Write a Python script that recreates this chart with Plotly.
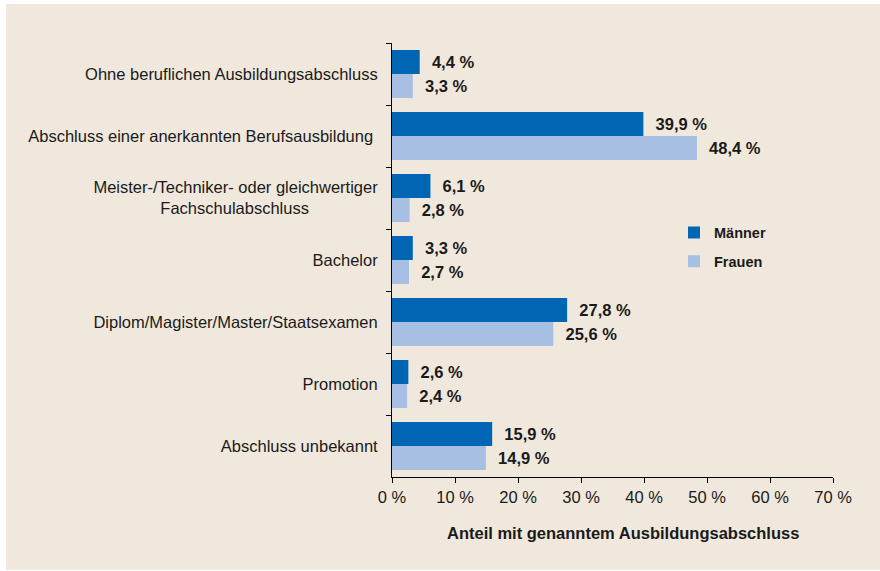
import plotly.graph_objects as go

categories = [
    "Ohne beruflichen Ausbildungsabschluss",
    "Abschluss einer anerkannten Berufsausbildung\u00a0",
    "Meister-/Techniker- oder gleichwertiger<br>Fachschulabschluss" + "\u00a0" * 15,
    "Bachelor",
    "Diplom/Magister/Master/Staatsexamen",
    "Promotion",
    "Abschluss unbekannt",
]
maenner = [4.4, 39.9, 6.1, 3.3, 27.8, 2.6, 15.9]
frauen = [3.3, 48.4, 2.8, 2.7, 25.6, 2.4, 14.9]
series_names = ["Männer", "Frauen"]
x_ticks = [0, 10, 20, 30, 40, 50, 60, 70]
x_ticktext = ["0 %", "10 %", "20 %", "30 %", "40 %", "50 %", "60 %", "70 %"]
x_title = "Anteil mit genanntem Ausbildungsabschluss"

FONT = "Liberation Sans, Arial, sans-serif"
BG = "#F0E8DC"
TXT = "#1a1a1a"
FS = 16.5

L, R, T, B = 392, 833, 43, 477
W, H = 880, 571
PW, PH = R - L, B - T

fig = go.Figure()
for name, vals, col in [(series_names[0], maenner, "#0066B3"), (series_names[1], frauen, "#A6BFE3")]:
    fig.add_trace(go.Bar(
        y=categories, x=vals, orientation="h", name=name,
        marker=dict(color=col, line=dict(width=0)),
        texttemplate="\u00a0\u00a0%{x:.1f} %", textposition="outside",
        textfont=dict(family=FONT, size=FS, color=TXT, weight="bold"),
        cliponaxis=False, constraintext="none",
        legendgroup=name,
    ))

fig.add_shape(type="rect", xref="paper", yref="paper",
              x0=(6 - L) / PW, x1=(W - L) / PW + 0.05,
              y0=(B - 570) / PH, y1=(B - 4) / PH,
              fillcolor=BG, line=dict(width=0), layer="below")

fig.add_annotation(text="<b>" + x_title + "</b>", xref="paper", yref="paper",
                   x=(623 - L) / PW, y=(B - 533) / PH, xanchor="center", yanchor="middle",
                   showarrow=False, font=dict(family=FONT, size=FS, color=TXT))

fig.update_layout(
    width=W, height=H,
    margin=dict(l=L, r=W - R, t=T, b=H - B, pad=0),
    paper_bgcolor="white", plot_bgcolor="rgba(0,0,0,0)",
    separators=",.",
    barmode="group", bargap=0.226, bargroupgap=0,
    font=dict(family=FONT, size=FS, color=TXT),
    showlegend=True,
    legend=dict(x=(674 - L) / PW, y=(B - 216.5) / PH, xanchor="left", yanchor="top",
                bgcolor="rgba(0,0,0,0)", traceorder="grouped", tracegroupgap=7,
                font=dict(family=FONT, size=14.5, color=TXT, weight="bold")),
    xaxis=dict(range=[0, 70], tickvals=x_ticks, ticktext=x_ticktext, showgrid=False,
               zeroline=False, showline=True, linecolor="black", linewidth=1,
               ticks="outside", ticklen=5, tickcolor="black",
               tickfont=dict(family=FONT, size=FS, color=TXT)),
    yaxis=dict(autorange="reversed", showgrid=False, showline=True, linecolor="black",
               linewidth=1, ticks="outside", ticklen=5, tickcolor="black",
               tickson="boundaries", ticklabelstandoff=10,
               tickfont=dict(family=FONT, size=FS, color=TXT)),
)

fig.write_html("out.html", config={"displayModeBar": False},
               post_script="document.body.style.margin='0';document.body.style.overflow='hidden';")
